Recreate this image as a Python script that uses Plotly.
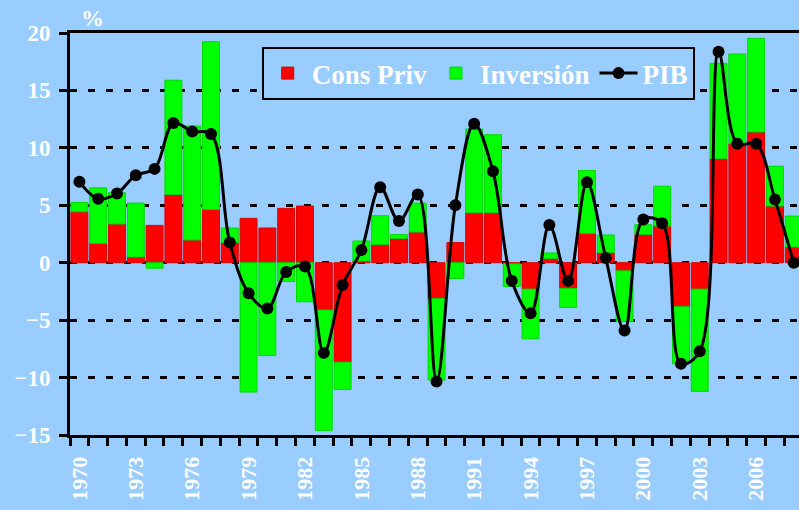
import plotly.graph_objects as go

years = list(range(1970, 2009))
cons_priv = [4.44, 1.69, 3.37, 0.5, 3.25, 5.94, 1.98, 4.64, 1.75, 3.86, 3.02, 4.73, 4.93,
             -4.12, -8.66, 0.15, 1.58, 2.1, 2.67, -3.11, 1.75, 4.35, 4.35, -0.1, -2.3,
             0.36, -2.24, 2.56, 0.88, -0.71, 2.47, 3.19, -3.83, -2.3, 9.06, 10.36, 11.38,
             4.93, 1.37]
inversion = [0.81, 4.83, 2.72, 4.69, -0.48, 9.95, 9.92, 14.6, 1.27, -11.26, -8.08, -1.63,
             -3.4, -10.48, -2.37, 1.74, 2.51, 0.35, 2.52, -7.1, -1.37, 7.29, 6.79, -1.97,
             -4.33, 0.49, -1.65, 5.46, 1.53, -4.42, 0.84, 3.47, -4.97, -8.9, 8.3, 7.81,
             8.15, 3.47, 2.69]
pib = [7.04, 5.57, 6.03, 7.62, 8.17, 12.16, 11.43, 11.2, 1.75, -2.65, -3.98, -0.8, -0.33,
       -7.85, -1.95, 1.1, 6.58, 3.63, 5.94, -10.34, 5.01, 12.1, 7.96, -1.58, -4.41, 3.28,
       -1.58, 7.01, 0.4, -5.91, 3.77, 3.43, -8.8, -7.7, 18.37, 10.36, 10.36, 5.51, 0.0]
label_years = list(range(1970, 2007, 3))
y_ticks = [-15, -10, -5, 0, 5, 10, 15, 20]

BG = "#99CCFF"
FONT = "Liberation Serif"

fig = go.Figure()
fig.add_trace(go.Bar(x=years, y=cons_priv, name="Cons Priv",
                     marker=dict(color="#FF0000", line=dict(color="#D80000", width=1))))
fig.add_trace(go.Bar(x=years, y=inversion, name="Inversión",
                     marker=dict(color="#00FF00", line=dict(color="#00D800", width=1))))
fig.add_trace(go.Scatter(x=years, y=pib, name="PIB", mode="lines+markers",
                         line=dict(color="black", width=3, shape="spline", smoothing=1),
                         marker=dict(color="black", size=12)))

fig.update_layout(
    width=799, height=510,
    barmode="relative", bargap=0.1,
    paper_bgcolor=BG, plot_bgcolor=BG,
    margin=dict(l=70, r=0, t=33, b=75, autoexpand=False),
    font=dict(family=FONT, color="white", size=22, weight="bold"),
    legend=dict(orientation="h", x=0.263, y=0.965, xanchor="left", yanchor="top",
                bgcolor=BG, bordercolor="black", borderwidth=2,
                font=dict(family=FONT, size=27, color="white", weight="bold"),
                traceorder="normal", itemwidth=38),
    showlegend=True,
)

fig.update_xaxes(
    range=[1969.5, 2008.28], automargin=False,
    tickmode="array", tickvals=label_years, ticktext=[str(y) for y in label_years],
    tickangle=-90, ticks="", showgrid=False, zeroline=False,
    showline=True, linecolor="black", linewidth=3, mirror=True,
    tickfont=dict(family=FONT, size=22, color="white", weight="bold"),
    ticklabelstandoff=10,
    minor=dict(tick0=1969.5, dtick=1, ticks="outside", ticklen=8, tickwidth=3,
               tickcolor="black", showgrid=False),
)
fig.update_yaxes(
    range=[-15, 20], tickmode="array", tickvals=y_ticks, automargin=False,
    ticks="outside", ticklen=8, tickwidth=3, tickcolor="black",
    showline=True, linecolor="black", linewidth=3, mirror=False,
    showgrid=True, gridcolor="black", gridwidth=3, griddash="7px,11px",
    zeroline=False, ticklabelstandoff=4,
    tickfont=dict(family=FONT, size=23, color="white", weight="bold"),
)

fig.add_annotation(text="%", xref="paper", yref="paper", x=0.013, y=1.0,
                   xanchor="left", yanchor="bottom", showarrow=False,
                   font=dict(family=FONT, size=23, color="white", weight="bold"))

fig.write_html("out.html", config={"displayModeBar": False},
               post_script="document.body.style.margin='0';document.body.style.overflow='hidden';document.body.style.background='#99CCFF';")
